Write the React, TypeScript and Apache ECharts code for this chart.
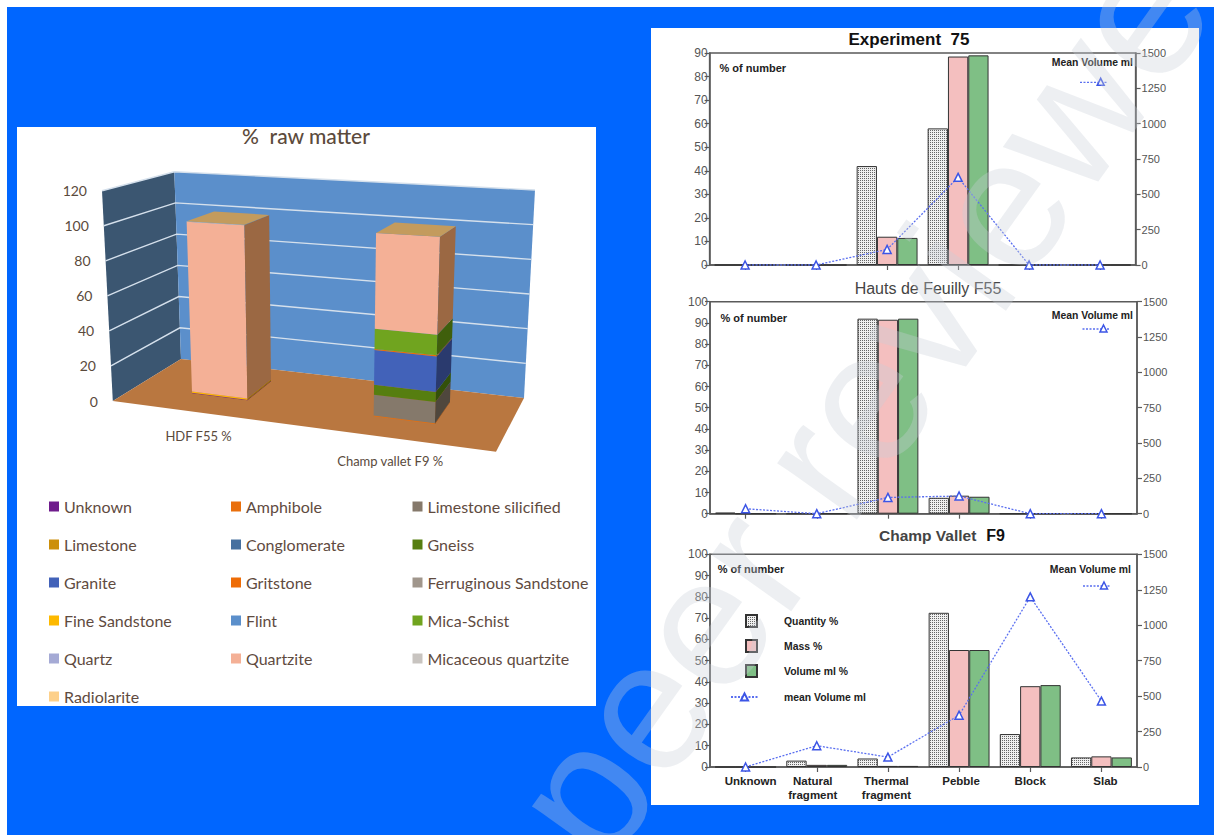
import React, { useEffect, useRef } from "react";
import * as echarts from "echarts";

// ---------- Data: 3D stacked chart ----------
const sites = ["HDF F55 %", "Champ vallet F9 %"];
const rawTicks = [0, 20, 40, 60, 80, 100, 120];
const unknownV = [0.3, 0];
const amphiboleV = [0, 0.4];
const silicifiedV = [0, 11.3];
const limestoneV = [0, 0];
const conglomerateV = [0, 0];
const gneissV = [0, 5.4];
const graniteV = [0, 19];
const gritstoneV = [0, 0.6];
const ferruginousV = [0, 0];
const fineSandV = [0.7, 0];
const flintV = [0, 0];
const micaSchistV = [0, 11];
const quartzV = [0, 0];
const quartziteV = [98.8, 52.3];
const micaceousV = [0.2, 0];
const radiolariteV = [0, 0];

const rocks: [string, number[], string, string][] = [
  ["Unknown", unknownV, "#6f1c8c", "#40104f"],
  ["Amphibole", amphiboleV, "#e96f0c", "#8a4007"],
  ["Limestone silicified", silicifiedV, "#85796b", "#4f473d"],
  ["Limestone", limestoneV, "#cc8f0a", "#7a5605"],
  ["Conglomerate", conglomerateV, "#46709f", "#2a4361"],
  ["Gneiss", gneissV, "#567e10", "#33500a"],
  ["Granite", graniteV, "#4262b9", "#2a3a6e"],
  ["Gritstone", gritstoneV, "#ee6c06", "#8a3f03"],
  ["Ferruginous Sandstone", ferruginousV, "#a0968c", "#5f5952"],
  ["Fine Sandstone", fineSandV, "#fdb900", "#987000"],
  ["Flint", flintV, "#5b8fcb", "#35557a"],
  ["Mica-Schist", micaSchistV, "#70a41f", "#3f5f0c"],
  ["Quartz", quartzV, "#a5aad5", "#63667f"],
  ["Quartzite", quartziteV, "#f4b096", "#9b6843"],
  ["Micaceous quartzite", micaceousV, "#c8c4c0", "#787573"],
  ["Radiolarite", radiolariteV, "#fdd08a", "#987d52"],
];
const legendCol1 = ["Unknown", "Limestone", "Granite", "Fine Sandstone", "Quartz", "Radiolarite"];
const legendCol2 = ["Amphibole", "Conglomerate", "Gritstone", "Flint", "Quartzite"];
const legendCol3 = ["Limestone silicified", "Gneiss", "Ferruginous Sandstone", "Mica-Schist", "Micaceous quartzite"];

// ---------- Data: column + line panels ----------
const fragments = ["Unknown", "Natural\nfragment", "Thermal\nfragment", "Pebble", "Block", "Slab"];
const exp75Quantity = [0, 0, 42, 58, 0, 0];
const exp75Mass = [0, 0, 12, 88.5, 0, 0];
const exp75Volume = [0, 0, 11.5, 89, 0, 0];
const exp75Mean = [0, 0, 110, 620, 0, 0];
const f55Quantity = [0.5, 0, 92, 7.5, 0, 0];
const f55Mass = [0, 0, 91.5, 8.5, 0, 0];
const f55Volume = [0, 0, 92, 8, 0, 0];
const f55Mean = [35, 0, 115, 125, 0, 0];
const f9Quantity = [0, 3, 4, 72.5, 15.5, 4.5];
const f9Mass = [0, 1, 0.5, 55, 38, 5];
const f9Volume = [0, 1, 0.5, 55, 38.5, 4.5];
const f9Mean = [0, 150, 70, 365, 1200, 465];

// ---------- Perspective frame of the 3D chart ----------
type P = [number, number];
const FRONT = { bl: [112.8, 401] as P, br: [496, 451.7] as P, tl: [102, 190.7] as P, tr: [505, 210] as P };
const BACK = { bl: [181, 359] as P, br: [524, 398] as P, tl: [174.3, 171.7] as P, tr: [535, 190] as P };
const mix = (a: P, b: P, t: number): P => [a[0] + (b[0] - a[0]) * t, a[1] + (b[1] - a[1]) * t];
const plane = (q: typeof FRONT, u: number, w: number): P => mix(mix(q.bl, q.br, u), mix(q.tl, q.tr, u), w);
const project = (u: number, d: number, w: number): P => mix(plane(FRONT, u, w), plane(BACK, u, w), d);

const barHalf = (u: number) => 0.071 + 0.016 * u;
const BAR_SHIFT = -0.025;
const BAR_D0 = 0.35;
const BAR_D1 = 0.77;

const norm = (params: any, pt: number[]) => {
  const cs = params.coordSys;
  return { u: (pt[0] - cs.x) / cs.width, w: (cs.y + cs.height - pt[1]) / cs.height };
};

function rockSeries(name: string, values: number[], below: number[], front: string, side: string) {
  const data = values
    .map((v, i) => [i, below[i], below[i] + v])
    .filter((r) => r[2] > r[1]);
  return {
    type: "custom",
    name,
    xAxisIndex: 0,
    yAxisIndex: 0,
    z: 3,
    silent: true,
    clip: false,
    itemStyle: { color: front },
    encode: { x: 0, y: [1, 2] },
    data,
    renderItem: (params: any, api: any) => {
      const a = norm(params, api.coord([api.value(0), api.value(1)]));
      const b = norm(params, api.coord([api.value(0), api.value(2)]));
      const u0 = a.u + BAR_SHIFT - barHalf(a.u);
      const u1 = a.u + BAR_SHIFT + barHalf(a.u);
      return {
        type: "group",
        children: [
          {
            type: "polygon",
            shape: { points: [project(u0, BAR_D0, a.w), project(u1, BAR_D0, a.w), project(u1, BAR_D0, b.w), project(u0, BAR_D0, b.w)] },
            style: { fill: front },
          },
          {
            type: "polygon",
            shape: { points: [project(u1, BAR_D0, a.w), project(u1, BAR_D1, a.w), project(u1, BAR_D1, b.w), project(u1, BAR_D0, b.w)] },
            style: { fill: side },
          },
        ],
      };
    },
  };
}

function buildRockSeries() {
  const below = sites.map(() => 0);
  const out: any[] = [];
  rocks.forEach(([name, values, front, side]) => {
    out.push(rockSeries(name, values, below.slice(), front, side));
    values.forEach((v, i) => (below[i] += v));
  });
  // caps on top of each column
  out.push({
    type: "custom",
    name: "caps",
    xAxisIndex: 0,
    yAxisIndex: 0,
    z: 4,
    silent: true,
    clip: false,
    encode: { x: 0, y: 1 },
    data: below.map((v, i) => [i, v]),
    renderItem: (params: any, api: any) => {
      const a = norm(params, api.coord([api.value(0), api.value(1)]));
      const u0 = a.u + BAR_SHIFT - barHalf(a.u);
      const u1 = a.u + BAR_SHIFT + barHalf(a.u);
      return {
        type: "polygon",
        shape: { points: [project(u0, BAR_D0, a.w), project(u1, BAR_D0, a.w), project(u1, BAR_D1, a.w), project(u0, BAR_D1, a.w)] },
        style: { fill: "#c39b5d" },
      };
    },
  });
  return out;
}

const wallsSeries = {
  type: "custom",
  name: "walls",
  xAxisIndex: 0,
  yAxisIndex: 0,
  z: 1,
  silent: true,
  clip: false,
  encode: { x: 0, y: 1 },
  data: [[0, 0]],
  renderItem: () => ({
    type: "group",
    children: [
      { type: "polygon", shape: { points: [project(0, 0, 0), project(0, 1, 0), project(0, 1, 1), project(0, 0, 1)] }, style: { fill: "#3b5671" } },
      { type: "polygon", shape: { points: [project(0, 1, 0), project(1, 1, 0), project(1, 1, 1), project(0, 1, 1)] }, style: { fill: "#5b8fcb" } },
      { type: "polygon", shape: { points: [project(0, 0, 0), project(1, 0, 0), project(1, 1, 0), project(0, 1, 0)] }, style: { fill: "#b97740" } },
    ],
  }),
};

const gridLinesSeries = {
  type: "custom",
  name: "gridlines",
  xAxisIndex: 0,
  yAxisIndex: 0,
  z: 2,
  silent: true,
  clip: false,
  encode: { x: 0, y: 1 },
  data: rawTicks.filter((t) => t > 0).map((t) => [0, t]),
  renderItem: (params: any, api: any) => {
    const { w } = norm(params, api.coord([0, api.value(1)]));
    return {
      type: "polyline",
      shape: { points: [project(0, 0, w), project(0, 1, w), project(1, 1, w)] },
      style: { stroke: "#d5e0ec", lineWidth: 1.4, fill: "none" },
    };
  },
};

const rawTickLabels = {
  type: "custom",
  name: "ticklabels",
  xAxisIndex: 0,
  yAxisIndex: 0,
  z: 5,
  silent: true,
  clip: false,
  encode: { x: 0, y: 1 },
  data: rawTicks.map((t) => [0, t]),
  renderItem: (params: any, api: any) => {
    const { w } = norm(params, api.coord([0, api.value(1)]));
    const p = project(0, 0, w);
    return {
      type: "text",
      x: p[0] - 15,
      y: p[1],
      style: { text: String(api.value(1)), textAlign: "right", textVerticalAlign: "middle", fill: "#5a4a3c", font: "14px Lato" },
    };
  },
};

const siteLabels = {
  type: "custom",
  name: "sitelabels",
  xAxisIndex: 0,
  yAxisIndex: 0,
  z: 5,
  silent: true,
  clip: false,
  encode: { x: 0, y: 1 },
  data: sites.map((_, i) => [i, 0]),
  renderItem: (params: any, api: any) => {
    const i = api.value(0);
    const { u } = norm(params, api.coord([i, 0]));
    const p = project(u, 0, 0);
    return {
      type: "text",
      x: p[0] - 10,
      y: p[1] + 22,
      style: { text: sites[i], textAlign: "center", textVerticalAlign: "middle", fill: "#5a4a3c", font: "13px Lato" },
    };
  },
};

// ---------- Helpers for the right-hand panels ----------
const AXIS = "#5a5a5a";
const ARIAL = "'Liberation Sans', Arial, sans-serif";
const BLUE = "#3c55e6";

function dotPattern() {
  const c = document.createElement("canvas");
  c.width = 4;
  c.height = 4;
  const g = c.getContext("2d")!;
  g.fillStyle = "#f0f0f0";
  g.fillRect(0, 0, 4, 4);
  g.fillStyle = "#666";
  g.fillRect(0, 0, 1, 1);
  g.fillRect(2, 2, 1, 1);
  g.fillRect(2, 0, 1, 1);
  g.fillRect(0, 2, 1, 1);
  return c;
}

function panelSeries(k: number, q: number[], m: number[], v: number[], mean: number[], lineName: string, pattern: any) {
  const ax = 1 + k;
  const yL = 1 + k * 2;
  const yR = 2 + k * 2;
  const bar = (name: string, data: number[], color: any) => ({
    type: "bar",
    name,
    xAxisIndex: ax,
    yAxisIndex: yL,
    data,
    barWidth: 20.3,
    barGap: 0,
    z: 3,
    silent: true,
    itemStyle: { color, borderColor: "#333", borderWidth: 1 },
  });
  return [
    bar("Quantity %", q, pattern),
    bar("Mass %", m, "#f4bfbf"),
    bar("Volume ml %", v, "#7fbf85"),
    {
      type: "line",
      name: lineName,
      xAxisIndex: ax,
      yAxisIndex: yR,
      data: mean,
      z: 5,
      silent: true,
      symbol: "triangle",
      symbolSize: 8,
      showAllSymbol: true,
      lineStyle: { color: "#5a6ff0", width: 1.3, type: [2, 1.5] },
      itemStyle: { color: "#ffffff", borderColor: BLUE, borderWidth: 1.5 },
    },
  ];
}

const panelGrids = [
  { left: 709.6, top: 53, width: 426, height: 212 },
  { left: 710, top: 301.7, width: 427, height: 212 },
  { left: 710, top: 554.3, width: 427, height: 212.7 },
];

const sampleLine = (x0: number, x1: number, xt: number, y: number) => [
  { type: "line", z: 6, shape: { x1: x0, y1: y, x2: x1, y2: y }, style: { stroke: "#5a6ff0", lineWidth: 1.3, lineDash: [2, 1.5] } },
  { type: "polygon", z: 6, shape: { points: [[xt, y - 4], [xt + 3.5, y + 3], [xt - 3.5, y + 3]] }, style: { fill: "#fff", stroke: BLUE, lineWidth: 1.5 } },
];

const smallBold = (text: string, x: number, y: number, align: string, size: number) => ({
  type: "text",
  z: 6,
  x,
  y,
  style: { text, textAlign: align, textVerticalAlign: "middle", fill: "#222", font: `bold ${size}px ${ARIAL}` },
});

export default function App() {
  const ref = useRef<HTMLDivElement>(null);
  useEffect(() => {
    const chart = echarts.init(ref.current!, undefined, { renderer: "svg" });
    const pattern = { image: dotPattern(), repeat: "repeat" };

    const labelNudge: Record<string, number[]> = {
      Unknown: [0, 0, 0, 10],
      "Natural\nfragment": [0, 8, 0, 0],
      "Thermal\nfragment": [0, 3, 0, 0],
      Pebble: [0, 0, 0, 4],
      Slab: [0, 0, 0, 8],
    };

    const xAxes: any[] = [
      { type: "category", gridIndex: 0, data: sites, show: false },
      ...panelGrids.map((_, k) => ({
        type: "category",
        gridIndex: k + 1,
        data: fragments.map((f) => ({ value: f, textStyle: { padding: labelNudge[f] || 0 } })),
        axisLine: { onZero: false, lineStyle: { color: AXIS, width: 1.5 } },
        axisTick: { show: true, alignWithLabel: true, length: 5, lineStyle: { color: AXIS, width: 1.2 } },
        axisLabel: k === 2
          ? { show: true, interval: 0, color: "#222", fontFamily: ARIAL, fontWeight: "bold", fontSize: 11.5, lineHeight: 14, margin: 7 }
          : { show: false },
      })),
    ];
    const yAxes: any[] = [{ type: "value", gridIndex: 0, min: 0, max: 120, interval: 20, show: false }];
    panelGrids.forEach((_, k) => {
      yAxes.push({
        type: "value",
        gridIndex: k + 1,
        position: "left",
        min: 0,
        max: k === 0 ? 90 : 100,
        interval: 10,
        splitLine: { show: false },
        axisLine: { show: true, lineStyle: { color: AXIS, width: 1.5 } },
        axisTick: { show: true, length: 5, lineStyle: { color: AXIS, width: 1.2 } },
        axisLabel: { color: "#555", fontFamily: ARIAL, fontSize: 12, margin: 2 },
      });
      yAxes.push({
        type: "value",
        gridIndex: k + 1,
        position: "right",
        min: 0,
        max: 1500,
        interval: 250,
        splitLine: { show: false },
        axisLine: { show: true, lineStyle: { color: AXIS, width: 1.5 } },
        axisTick: { show: true, length: 5, lineStyle: { color: AXIS, width: 1.2 } },
        axisLabel: { color: "#555", fontFamily: ARIAL, fontSize: 11, margin: 6, formatter: (v: number) => String(v) },
      });
    });

    const rockLegend = (data: string[], left: number) => ({
      orient: "vertical",
      left,
      top: 493,
      data,
      selectedMode: false,
      icon: "rect",
      itemWidth: 10,
      itemHeight: 10,
      itemGap: 21,
      textStyle: { fontFamily: "Lato", fontSize: 16, color: "#5f4b3f", lineHeight: 17 },
    });

    const option: any = {
      animation: false,
      backgroundColor: "#ffffff",
      title: [
        { text: "%  raw matter", left: 301, top: 120, textAlign: "center", textStyle: { fontFamily: "Lato", fontSize: 21, fontWeight: 500, color: "#5c4a3c" } },
        { text: "Experiment  75", left: 904, top: 26, textAlign: "center", textStyle: { fontFamily: ARIAL, fontSize: 17, fontWeight: "bold", color: "#111" } },
        { text: "Hauts de Feuilly F55", left: 923, top: 275, textAlign: "center", textStyle: { fontFamily: ARIAL, fontSize: 16, fontWeight: "normal", color: "#444" } },
        {
          text: "{a|Champ Vallet}  {b|F9}",
          left: 937,
          top: 521,
          textAlign: "center",
          textStyle: { rich: { a: { fontFamily: ARIAL, fontSize: 15.5, color: "#444" }, b: { fontFamily: ARIAL, fontSize: 16, fontWeight: "bold", color: "#111" } } },
        },
      ],
      legend: [
        rockLegend(legendCol1, 44),
        rockLegend(legendCol2, 226),
        rockLegend(legendCol3, 407.5),
        {
          orient: "vertical",
          left: 740,
          top: 609,
          data: ["Quantity %", "Mass %", "Volume ml %"],
          selectedMode: false,
          icon: "rect",
          itemWidth: 11,
          itemHeight: 12,
          itemGap: 11,
          textStyle: { fontFamily: ARIAL, fontSize: 10.4, fontWeight: "bold", color: "#222", padding: [0, 0, 0, 22] },
        },
        {
          left: 725,
          top: 687,
          data: ["mean Volume ml"],
          selectedMode: false,
          itemWidth: 27,
          itemHeight: 9,
          textStyle: { fontFamily: ARIAL, fontSize: 10.4, fontWeight: "bold", color: "#222", padding: [0, 0, 0, 21] },
        },
      ],
      grid: [
        { left: 100, top: 170, width: 440, height: 240, show: false },
        ...panelGrids.map((g) => ({ ...g, show: true, borderColor: AXIS, borderWidth: 1.5, backgroundColor: "transparent" })),
      ],
      xAxis: xAxes,
      yAxis: yAxes,
      graphic: [
        { type: "rect", z: -10, shape: { x: 7, y: 7, width: 1207, height: 828 }, style: { fill: "#0066ff" } },
        { type: "rect", z: -9, shape: { x: 17, y: 127, width: 579, height: 579 }, style: { fill: "#ffffff" } },
        { type: "rect", z: -9, shape: { x: 651, y: 28, width: 548, height: 777 }, style: { fill: "#ffffff" } },
        smallBold("% of number", 719.5, 68, "left", 11),
        smallBold("% of number", 720.5, 318, "left", 11),
        smallBold("% of number", 717.7, 569, "left", 11),
        smallBold("Mean Volume ml", 1133, 62.5, "right", 10.4),
        smallBold("Mean Volume ml", 1133, 315, "right", 10.4),
        smallBold("Mean Volume ml", 1131, 569, "right", 10.4),
        ...sampleLine(1080, 1108, 1100.7, 82.3),
        ...sampleLine(1082.5, 1110, 1103.5, 329),
        ...sampleLine(1083, 1111, 1104, 586),
        {
          type: "text",
          z: 100,
          silent: true,
          x: 890,
          y: 363,
          rotation: (54.5 * Math.PI) / 180,
          style: {
            text: "peer reviewed",
            textAlign: "center",
            textVerticalAlign: "middle",
            fill: "rgba(200,205,215,0.33)",
            font: `185px ${ARIAL}`,
          },
        },
      ],
      series: [
        wallsSeries,
        gridLinesSeries,
        ...buildRockSeries(),
        rawTickLabels,
        siteLabels,
        ...panelSeries(0, exp75Quantity, exp75Mass, exp75Volume, exp75Mean, "Mean Volume ml", pattern),
        ...panelSeries(1, f55Quantity, f55Mass, f55Volume, f55Mean, "Mean Volume ml", pattern),
        ...panelSeries(2, f9Quantity, f9Mass, f9Volume, f9Mean, "mean Volume ml", pattern),
      ],
    };
    chart.setOption(option);
    return () => chart.dispose();
  }, []);
  return <div ref={ref} style={{ position: "fixed", left: 0, top: 0, width: 1214, height: 835 }} />;
}
